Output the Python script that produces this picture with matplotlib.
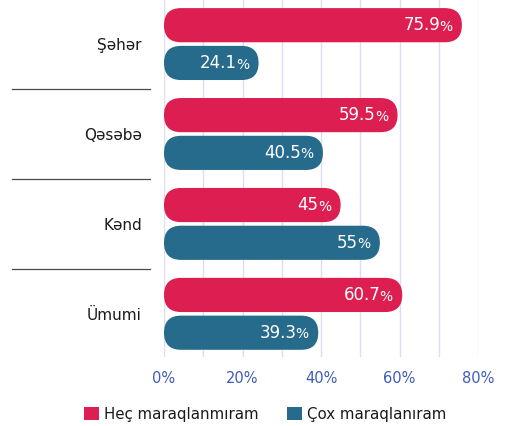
import numpy as np
import matplotlib
matplotlib.use("Agg")
import matplotlib.pyplot as plt
from matplotlib.patches import FancyBboxPatch, Patch
from matplotlib.transforms import blended_transform_factory, offset_copy

categories = ["Şəhər", "Qəsəbə", "Kənd", "Ümumi"]
series_names = ["Heç maraqlanmıram", "Çox maraqlanıram"]
not_interested = [75.9, 59.5, 45, 60.7]
very_interested = [24.1, 40.5, 55, 39.3]
value_labels = [["75.9", "59.5", "45", "60.7"], ["24.1", "40.5", "55", "39.3"]]
xticks = [0, 20, 40, 60, 80]
xtick_labels = ["0%", "20%", "40%", "60%", "80%"]

RED, BLUE, TICK, GRID, INK = "#dc1f50", "#276b8c", "#3f5cb8", "#dcdcf2", "#1a1a1a"
W, H = 507, 426

fig = plt.figure(figsize=(W / 100, H / 100), dpi=100, facecolor="white")
ax = fig.add_axes([164 / W, 1 - 357 / H, (478 - 164) / W, 357 / H])
ax.set_xlim(0, 80)
ax.set_ylim(3.48, -0.49)
for s in ax.spines.values():
    s.set_visible(False)

# light vertical grid every 10%
for g in np.arange(0, 81, 10):
    ax.axvline(g, color=GRID, lw=1, zorder=0)
ax.set_xticks(xticks)
ax.set_xticklabels(xtick_labels, color=TICK, fontsize=10.5)
ax.tick_params(axis="x", length=0, pad=10)

ypos = np.arange(len(categories))
ax.set_yticks(ypos)
ax.set_yticklabels(categories, fontsize=11, color=INK)
ax.tick_params(axis="y", length=0, pad=16)

# aspect for pill-shaped bars
bb = ax.get_window_extent()
xpx = bb.width / 80
ypx = bb.height / 3.97
bar_h = 0.38
r_x = (bar_h / 2) * ypx / xpx
aspect = xpx / ypx

for k, (vals, col, off) in enumerate([(not_interested, RED, -0.21), (very_interested, BLUE, 0.21)]):
    for i, v in enumerate(vals):
        yc = ypos[i] + off
        p = FancyBboxPatch((0, yc - bar_h / 2), v, bar_h,
                           boxstyle=f"round,pad=0,rounding_size={r_x}",
                           mutation_aspect=aspect, fc=col, ec="none", zorder=2)
        ax.add_patch(p)
        num = ax.text(v, yc, value_labels[k][i], color="white", fontsize=12, ha="right",
                      va="center", zorder=3,
                      transform=offset_copy(ax.transData, fig=fig, x=-22, y=0, units="dots"))
        ax.annotate("%", xy=(1, 0), xycoords=num, xytext=(-0.5, 0.3), textcoords="offset points",
                    color="white", fontsize=10, ha="left", va="bottom", zorder=3)

# separators between groups
tr = blended_transform_factory(fig.transFigure, ax.transData)
for i in range(len(categories) - 1):
    ax.plot([12 / W, 150 / W], [i + 0.5, i + 0.5], color="#4a4a4a", lw=0.9,
            transform=tr, clip_on=False)

handles = [Patch(fc=RED, ec="none"), Patch(fc=BLUE, ec="none")]
fig.legend(handles, series_names, loc="center", bbox_to_anchor=(0.523, 1 - 414 / H),
           ncol=2, frameon=False, fontsize=10.8, handlelength=1.0, handleheight=1.0,
           handletextpad=0.3, columnspacing=1.9, labelcolor=INK)

fig.savefig("out.png", dpi=100, facecolor="white")
